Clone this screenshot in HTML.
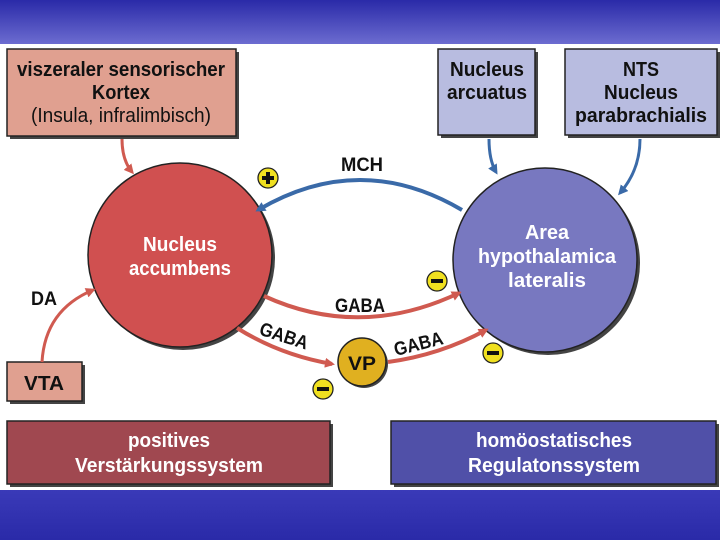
<!DOCTYPE html>
<html><head><meta charset="utf-8"><style>
html,body{margin:0;padding:0;background:#fff;}
svg{display:block}
text{font-family:"Liberation Sans",sans-serif;font-weight:bold;}
</style></head><body>
<svg width="720" height="540" viewBox="0 0 720 540" xmlns="http://www.w3.org/2000/svg">
<defs>
<linearGradient id="hd" x1="0" y1="0" x2="0" y2="1"><stop offset="0" stop-color="#2a2aa8"/><stop offset="1" stop-color="#6c6cd0"/></linearGradient>
<linearGradient id="ft" x1="0" y1="0" x2="0" y2="1"><stop offset="0" stop-color="#3a3ab8"/><stop offset="1" stop-color="#2a2aa8"/></linearGradient>
<marker id="ar" markerWidth="10" markerHeight="10" refX="7" refY="5" orient="auto" markerUnits="userSpaceOnUse"><path d="M0,0 L10,5 L0,10 Z" fill="#d05a50"/></marker>
<marker id="ab" markerWidth="10" markerHeight="10" refX="7" refY="5" orient="auto" markerUnits="userSpaceOnUse"><path d="M0,0 L10,5 L0,10 Z" fill="#3a6aa8"/></marker>
</defs>
<rect x="0" y="0" width="720" height="44" fill="url(#hd)"/>
<rect x="0" y="490" width="720" height="50" fill="url(#ft)"/>

<rect x="10" y="52" width="229" height="87" fill="#444"/>
<rect x="7" y="49" width="229" height="87" fill="#e0a090" stroke="#222" stroke-width="1.5"/>
<rect x="441" y="52" width="97" height="86" fill="#444"/>
<rect x="438" y="49" width="97" height="86" fill="#b8bce0" stroke="#222" stroke-width="1.5"/>
<rect x="568" y="52" width="152" height="86" fill="#444"/>
<rect x="565" y="49" width="152" height="86" fill="#b8bce0" stroke="#222" stroke-width="1.5"/>
<rect x="10" y="365" width="75" height="39" fill="#444"/>
<rect x="7" y="362" width="75" height="39" fill="#e0a090" stroke="#222" stroke-width="1.5"/>
<rect x="10" y="424" width="323" height="63" fill="#444"/>
<rect x="7" y="421" width="323" height="63" fill="#a04850" stroke="#222" stroke-width="1.5"/>
<rect x="394" y="424" width="325" height="63" fill="#444"/>
<rect x="391" y="421" width="325" height="63" fill="#5050a8" stroke="#222" stroke-width="1.5"/>

<circle cx="183" cy="258" r="92" fill="#444"/>
<circle cx="180" cy="255" r="92" fill="#d05050" stroke="#222" stroke-width="1.5"/>
<circle cx="548" cy="263" r="92" fill="#444"/>
<circle cx="545" cy="260" r="92" fill="#7878c0" stroke="#222" stroke-width="1.5"/>
<circle cx="364" cy="364" r="24" fill="#444"/>
<circle cx="362" cy="362" r="24" fill="#e0b020" stroke="#222" stroke-width="1.5"/>

<path d="M122,139 Q122,160 132,172" stroke="#d05a50" stroke-width="3" fill="none" marker-end="url(#ar)"/>
<path d="M489,139 Q489,160 496,172" stroke="#3a6aa8" stroke-width="3" fill="none" marker-end="url(#ab)"/>
<path d="M640,139 Q640,170 620,193" stroke="#3a6aa8" stroke-width="3" fill="none" marker-end="url(#ab)"/>
<path d="M462,210 Q360,150 258,210" stroke="#3a6aa8" stroke-width="4" fill="none" marker-end="url(#ab)"/>
<path d="M264,296 Q360,340 459,293" stroke="#d05a50" stroke-width="4" fill="none" marker-end="url(#ar)"/>
<path d="M237,328 Q280,355 332,364" stroke="#d05a50" stroke-width="4" fill="none" marker-end="url(#ar)"/>
<path d="M388,362 Q440,355 486,330" stroke="#d05a50" stroke-width="4" fill="none" marker-end="url(#ar)"/>
<path d="M42,362 Q45,310 93,290" stroke="#d05a50" stroke-width="3" fill="none" marker-end="url(#ar)"/>

<g stroke="#222" stroke-width="1.3" fill="#f0e020">
<circle cx="268" cy="178" r="10"/><circle cx="437" cy="281" r="10"/><circle cx="493" cy="353" r="10"/><circle cx="323" cy="389" r="10"/>
</g>
<g fill="#111"><rect x="262" y="176" width="12" height="4"/><rect x="266" y="172" width="4" height="12"/>
<rect x="431" y="279" width="12" height="4"/><rect x="487" y="351" width="12" height="4"/><rect x="317" y="387" width="12" height="4"/></g>

<g fill="#111" font-size="20" text-anchor="middle">
<text x="121" y="76" textLength="208" lengthAdjust="spacingAndGlyphs">viszeraler sensorischer</text>
<text x="121" y="99" textLength="58" lengthAdjust="spacingAndGlyphs">Kortex</text>
<text x="121" y="122" style="font-weight:normal" textLength="180" lengthAdjust="spacingAndGlyphs">(Insula, infralimbisch)</text>
<text x="487" y="76" textLength="74" lengthAdjust="spacingAndGlyphs">Nucleus</text>
<text x="487" y="99" textLength="80" lengthAdjust="spacingAndGlyphs">arcuatus</text>
<text x="641" y="76" textLength="36" lengthAdjust="spacingAndGlyphs">NTS</text>
<text x="641" y="99" textLength="74" lengthAdjust="spacingAndGlyphs">Nucleus</text>
<text x="641" y="122" textLength="132" lengthAdjust="spacingAndGlyphs">parabrachialis</text>
<text x="44" y="390" textLength="40" lengthAdjust="spacingAndGlyphs">VTA</text>
<text x="44" y="305" font-size="19" textLength="26" lengthAdjust="spacingAndGlyphs">DA</text>
<text x="362" y="171" font-size="19" textLength="42" lengthAdjust="spacingAndGlyphs">MCH</text>
<text x="360" y="312" font-size="19" textLength="50" lengthAdjust="spacingAndGlyphs">GABA</text>
<text x="362" y="370" font-size="19" textLength="28" lengthAdjust="spacingAndGlyphs">VP</text>
<text x="282" y="342" font-size="19" transform="rotate(18 282 342)" textLength="50" lengthAdjust="spacingAndGlyphs">GABA</text>
<text x="420" y="350" font-size="19" transform="rotate(-14 420 350)" textLength="50" lengthAdjust="spacingAndGlyphs">GABA</text>
</g>
<g fill="#fff" font-size="20" text-anchor="middle">
<text x="180" y="251" textLength="74" lengthAdjust="spacingAndGlyphs">Nucleus</text>
<text x="180" y="275" textLength="102" lengthAdjust="spacingAndGlyphs">accumbens</text>
<text x="547" y="239" textLength="44" lengthAdjust="spacingAndGlyphs">Area</text>
<text x="547" y="263" textLength="138" lengthAdjust="spacingAndGlyphs">hypothalamica</text>
<text x="547" y="287" textLength="78" lengthAdjust="spacingAndGlyphs">lateralis</text>
<text x="169" y="447" textLength="82" lengthAdjust="spacingAndGlyphs">positives</text>
<text x="169" y="472" textLength="188" lengthAdjust="spacingAndGlyphs">Verstärkungssystem</text>
<text x="554" y="447" textLength="156" lengthAdjust="spacingAndGlyphs">homöostatisches</text>
<text x="554" y="472" textLength="172" lengthAdjust="spacingAndGlyphs">Regulatonssystem</text>
</g>
</svg>
</body></html>
